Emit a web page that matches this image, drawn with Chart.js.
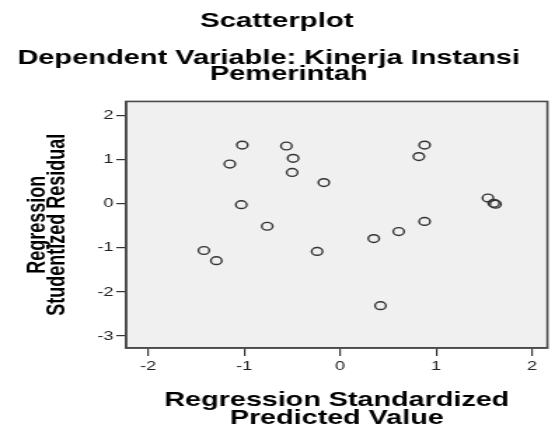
<!DOCTYPE html>
<html>
<head>
<meta charset="utf-8">
<script src="https://cdn.jsdelivr.net/npm/chart.js@4.4.0/dist/chart.umd.min.js"></script>
<style>
  html, body { margin: 0; padding: 0; background: #fff; overflow: hidden; }
  /* el grafico original viene estirado a lo ancho, por eso el scaleX */
  #caja { width: 396px; height: 430px; transform: scaleX(1.4015); transform-origin: 0 0; }
</style>
</head>
<body>
<div id="caja"><canvas id="graficoScatter" width="396" height="430"></canvas></div>
<script>
// datos
// (los espacios corren un poco cada linea, como en el original)
var tituloLineas = ["Dependent Variable: Kinerja Instansi  ", "   Pemerintah"]
var predichoStd = [-1.02, -1.15, -0.56, -0.49, -0.50, -0.17, -1.03, -0.76, -1.42, -1.29, -0.24, 0.88, 0.82, 1.54, 1.60, 1.62, 0.88, 0.61, 0.35, 0.42]
var residuoStud = [1.33, 0.90, 1.31, 1.03, 0.71, 0.48, -0.02, -0.51, -1.06, -1.29, -1.08, 1.33, 1.07, 0.13, 0.01, -0.01, -0.40, -0.63, -0.79, -2.31]
var ejeX = { min: -2.23, max: 2.16 }
var ejeY = { min: -3.27, max: 2.32 }

var fuente = "'Liberation Sans', Arial, sans-serif"

var puntos = []
predichoStd.forEach((x, i) => {
    puntos.push({ x: x, y: residuoStud[i] })
})

// fondo gris y marco del area del grafico
const marcoPlugin = {
    id: 'marco',
    beforeDraw(chart) {
        const a = chart.chartArea
        const c = chart.ctx
        c.save()
        c.fillStyle = '#f0f0f0'
        c.fillRect(a.left, a.top, a.right - a.left, a.bottom - a.top)
        c.restore()
    },
    afterDraw(chart) {
        const a = chart.chartArea
        const c = chart.ctx
        c.save()
        c.strokeStyle = '#4a4a4a'
        c.lineWidth = 1.6
        c.strokeRect(a.left, a.top, a.right - a.left, a.bottom - a.top)
        c.restore()
    }
}

const ctx = document.getElementById('graficoScatter').getContext('2d')
const miGrafico = new Chart(ctx, {
    type: 'scatter',
    data: {
        datasets: [{
            label: 'residuos',
            data: puntos,
            pointStyle: 'circle',
            pointRadius: 3.9,
            pointBorderWidth: 1.4,
            pointBorderColor: '#333',
            pointBackgroundColor: 'rgba(0,0,0,0)'
        }]
    },
    options: {
        responsive: false,
        animation: false,
        layout: { padding: { left: 0, right: 1, top: 0, bottom: 0 } },
        scales: {
            x: {
                type: 'linear',
                min: ejeX.min,
                max: ejeX.max,
                afterFit: (s) => { s.height = 82 },
                ticks: { stepSize: 1, includeBounds: false, padding: 3, color: '#222', font: { family: fuente, size: 13 } },
                grid: { drawOnChartArea: false, tickLength: 8, color: '#333', lineWidth: 1.2 },
                border: { display: true, color: '#4a4a4a', width: 1.6 },
                title: {
                    display: true,
                    text: ['Regression Standardized', 'Predicted Value'],
                    color: '#000',
                    font: { family: fuente, size: 20.5, weight: 'bold', lineHeight: 0.88 },
                    padding: { top: 0, bottom: 3 }
                }
            },
            y: {
                type: 'linear',
                min: ejeY.min,
                max: ejeY.max,
                afterFit: (s) => { s.width = 90 },
                ticks: { stepSize: 1, includeBounds: false, padding: 2, color: '#222', font: { family: fuente, size: 13 } },
                grid: { drawOnChartArea: false, tickLength: 7, color: '#333', lineWidth: 1.2 },
                border: { display: true, color: '#4a4a4a', width: 1.6 },
                title: {
                    display: true,
                    text: ['Regression', 'Studentized Residual'],
                    color: '#000',
                    font: { family: fuente, size: 18, weight: 'bold', lineHeight: 0.81 },
                    padding: { top: 19.5, bottom: 0 }
                }
            }
        },
        plugins: {
            legend: { display: false },
            tooltip: { enabled: false },
            title: {
                display: true,
                text: 'Scatterplot',
                color: '#000',
                font: { family: fuente, size: 21, weight: 'bold', lineHeight: 1.15 },
                padding: { top: 9.5, bottom: 16.5 }
            },
            subtitle: {
                display: true,
                text: tituloLineas,
                color: '#000',
                font: { family: fuente, size: 20.7, weight: 'bold', lineHeight: 0.78 },
                padding: { top: 0, bottom: 19 }
            }
        }
    },
    plugins: [marcoPlugin]
})
</script>
</body>
</html>
